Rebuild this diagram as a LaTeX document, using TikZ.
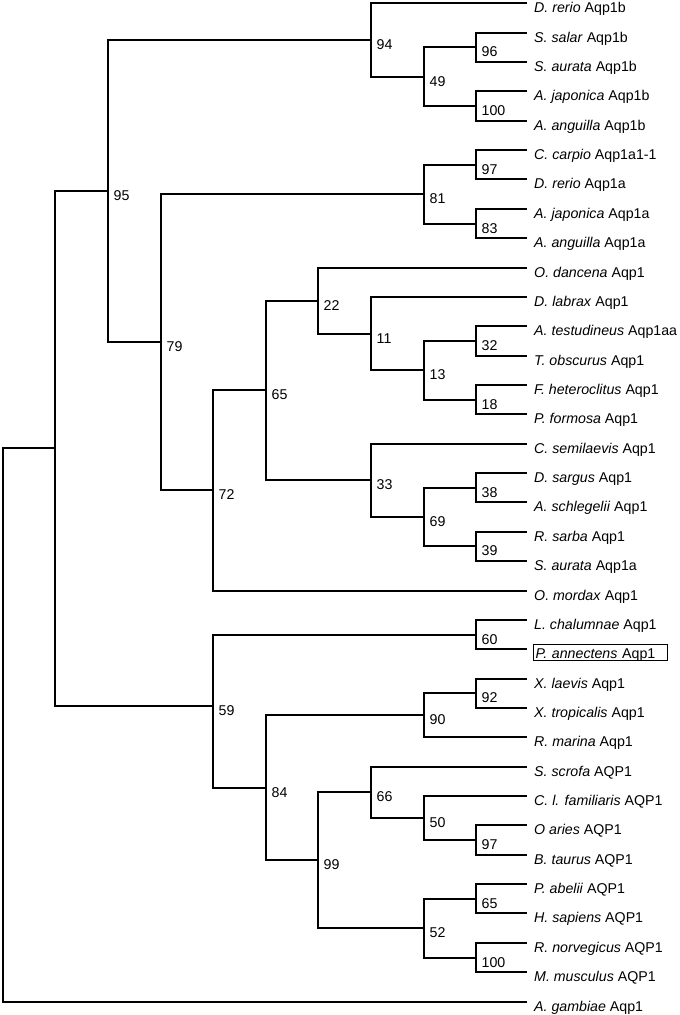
\documentclass[tikz,border=0pt]{standalone}
\usepackage{fontspec}
\setmainfont{Liberation Sans}
\newcommand\innode[4]{%
  \coordinate (#1) at (#2,{ly(#3)});
  \node[support] (#1l) at ({#2+5.5},{ly(#3)+9.5}) {#4};}
\newcommand\clade[3]{\draw[branch] (#2) -| (#1) |- (#3);}
\begin{document}
\begin{tikzpicture}[x=1pt,y=-1pt,
  declare function={ly(\i)=round(3.3+29.36*\i);},
  branch/.style={line width=1.9pt, line join=miter, black},
  leaf/.style={anchor=base west, inner sep=0pt, font=\fontsize{14.2}{16}\selectfont},
  support/.style={anchor=base west, inner sep=0pt, font=\fontsize{14.2}{16}\selectfont},
  boxed/.style={leaf, draw, line width=1.2pt, inner xsep=2.5pt, inner ysep=0pt, text width=129pt, align=left, text height=13.7pt, text depth=2.3pt},
]
\useasboundingbox (0,0) rectangle (680,1015);

% leaves
\foreach \i/\sp/\g in {0/D. rerio/Aqp1b, 1/S. salar/Aqp1b, 2/S. aurata/Aqp1b,
  3/A. japonica/Aqp1b, 4/A. anguilla/Aqp1b, 5/C. carpio/Aqp1a1-1, 6/D. rerio/Aqp1a,
  7/A. japonica/Aqp1a, 8/A. anguilla/Aqp1a, 9/O. dancena/Aqp1, 10/D. labrax/Aqp1,
  11/A. testudineus/Aqp1aa, 12/T. obscurus/Aqp1, 13/F. heteroclitus/Aqp1,
  14/P. formosa/Aqp1, 15/C. semilaevis/Aqp1, 16/D. sargus/Aqp1, 17/A. schlegelii/Aqp1,
  18/R. sarba/Aqp1, 19/S. aurata/Aqp1a, 20/O. mordax/Aqp1, 21/L. chalumnae/Aqp1,
  23/X. laevis/Aqp1, 24/X. tropicalis/Aqp1, 25/R. marina/Aqp1, 26/S. scrofa/AQP1,
  27/C. l. familiaris/AQP1, 28/O aries/AQP1, 29/B. taurus/AQP1, 30/P. abelii/AQP1,
  31/H. sapiens/AQP1, 32/R. norvegicus/AQP1, 33/M. musculus/AQP1, 34/A. gambiae/Aqp1}{
  \coordinate (e\i) at (527,{ly(\i)});
  \node[leaf] (t\i) at (534,{ly(\i)+9.5}) {\textit{\sp} \g};
}
\coordinate (e22) at (527,{ly(22)});
\node[boxed] (t22) at (532.5,{ly(22)+9.5}) {\textit{P. annectens} Aqp1};

% internal nodes with support values
\innode{n94}{371}{1.25}{94}
\innode{n49}{424}{2.5}{49}
\innode{n96}{476}{1.5}{96}
\innode{n100a}{476}{3.5}{100}
\innode{n95}{108}{6.3984375}{95}
\innode{n79}{161}{11.546875}{79}
\innode{n81}{424}{6.5}{81}
\innode{n97a}{476}{5.5}{97}
\innode{n83}{476}{7.5}{83}
\innode{n72}{213}{16.59375}{72}
\innode{n65}{266}{13.1875}{65}
\innode{n22}{318}{10.125}{22}
\innode{n11}{371}{11.25}{11}
\innode{n13}{424}{12.5}{13}
\innode{n32}{476}{11.5}{32}
\innode{n18}{476}{13.5}{18}
\innode{n33}{371}{16.25}{33}
\innode{n69}{424}{17.5}{69}
\innode{n38}{476}{16.5}{38}
\innode{n39}{476}{18.5}{39}
\innode{n59}{213}{23.95}{59}
\innode{n60}{476}{21.5}{60}
\innode{n84}{266}{26.71875}{84}
\innode{n90}{424}{24.25}{90}
\innode{n92}{476}{23.5}{92}
\innode{n99}{318}{29.1875}{99}
\innode{n66}{371}{26.875}{66}
\innode{n50}{424}{27.75}{50}
\innode{n97b}{476}{28.5}{97}
\innode{n52}{424}{31.5}{52}
\innode{n65b}{476}{30.5}{65}
\innode{n100b}{476}{32.5}{100}
\coordinate (nA) at (55,{ly(15.13)});
\coordinate (root) at (3,{ly(24.56)});

% branches
\clade{n96}{e1}{e2}
\clade{n100a}{e3}{e4}
\clade{n49}{n96}{n100a}
\clade{n94}{e0}{n49}
\clade{n97a}{e5}{e6}
\clade{n83}{e7}{e8}
\clade{n81}{n97a}{n83}
\clade{n32}{e11}{e12}
\clade{n18}{e13}{e14}
\clade{n13}{n32}{n18}
\clade{n11}{e10}{n13}
\clade{n22}{e9}{n11}
\clade{n38}{e16}{e17}
\clade{n39}{e18}{e19}
\clade{n69}{n38}{n39}
\clade{n33}{e15}{n69}
\clade{n65}{n22}{n33}
\clade{n72}{n65}{e20}
\clade{n79}{n81}{n72}
\clade{n95}{n94}{n79}
\clade{n60}{e21}{e22}
\clade{n92}{e23}{e24}
\clade{n90}{n92}{e25}
\clade{n97b}{e28}{e29}
\clade{n50}{e27}{n97b}
\clade{n66}{e26}{n50}
\clade{n65b}{e30}{e31}
\clade{n100b}{e32}{e33}
\clade{n52}{n65b}{n100b}
\clade{n99}{n66}{n52}
\clade{n84}{n90}{n99}
\clade{n59}{n60}{n84}
\clade{nA}{n95}{n59}
\clade{root}{nA}{e34}
\end{tikzpicture}
\end{document}
